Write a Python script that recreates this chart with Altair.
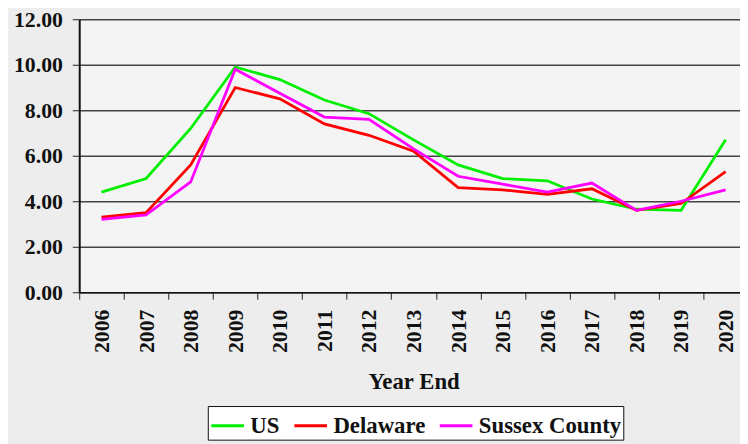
import altair as alt
import pandas as pd

years = [str(y) for y in range(2006, 2021)]
us = [4.4, 5.0, 7.2, 9.9, 9.35, 8.45, 7.85, 6.7, 5.6, 5.0, 4.9, 4.1, 3.65, 3.6, 6.7]
delaware = [3.3, 3.5, 5.6, 9.0, 8.5, 7.4, 6.9, 6.2, 4.6, 4.5, 4.3, 4.55, 3.6, 3.9, 5.3]
sussex = [3.2, 3.4, 4.85, 9.8, 8.75, 7.7, 7.6, 6.3, 5.1, 4.75, 4.4, 4.8, 3.6, 4.0, 4.5]
series_names = ["US", "Delaware", "Sussex County"]
series_colors = ["#00ee00", "#ff0000", "#ff00ff"]

rows = []
for name, vals in zip(series_names, [us, delaware, sussex]):
    for y, v in zip(years, vals):
        rows.append({"Year": y, "Value": v, "Series": name})
df = pd.DataFrame(rows)

FONT = "Liberation Serif, Times New Roman, serif"

chart = alt.Chart(df).mark_line(strokeWidth=2.8).encode(
    x=alt.X("Year:N", sort=years,
            scale=alt.Scale(range=[0, 676], paddingInner=0, paddingOuter=0),
            axis=alt.Axis(title="Year End", labelAngle=270, tickBand="extent",
                          tickSize=7, tickColor="#222", domainColor="#111",
                          domainWidth=1.5, labelFont=FONT, labelFontSize=22,
                          labelFontWeight="bold", labelColor="#111", labelPadding=10,
                          titleFont=FONT, titleFontSize=23, titleFontWeight="bold",
                          titleColor="#111", titlePadding=18, grid=False)),
    y=alt.Y("Value:Q", scale=alt.Scale(domain=[0, 12], nice=False),
            axis=alt.Axis(title=None, values=[0, 2, 4, 6, 8, 10, 12], format=".2f",
                          tickSize=7, tickColor="#222", domainColor="#111",
                          domainWidth=2, labelFont=FONT, labelFontSize=22,
                          labelFontWeight="bold", labelColor="#111", labelPadding=10,
                          grid=True, gridColor="#444", gridWidth=1.5)),
    color=alt.Color("Series:N", sort=series_names,
                    scale=alt.Scale(domain=series_names, range=series_colors),
                    legend=alt.Legend(title=None, orient="none", legendX=130, legendY=391,
                                      direction="horizontal", symbolType="stroke",
                                      symbolSize=1089, symbolStrokeWidth=3,
                                      labelFont=FONT, labelFontSize=23,
                                      labelFontWeight="bold", labelColor="#111",
                                      labelOffset=5, columnPadding=8, padding=2,
                                      fillColor="white", strokeColor="#111",
                                      labelLimit=400)),
).properties(
    width=668, height=276,
    autosize=alt.AutoSizeParams(type="none"),
    padding={"left": 72, "top": 9, "right": 0, "bottom": 151},
    background="#ededed",
).configure_view(fill="#f4f4f4", stroke=None)

chart.save("out.html", embed_options={"renderer": "svg", "actions": False})
